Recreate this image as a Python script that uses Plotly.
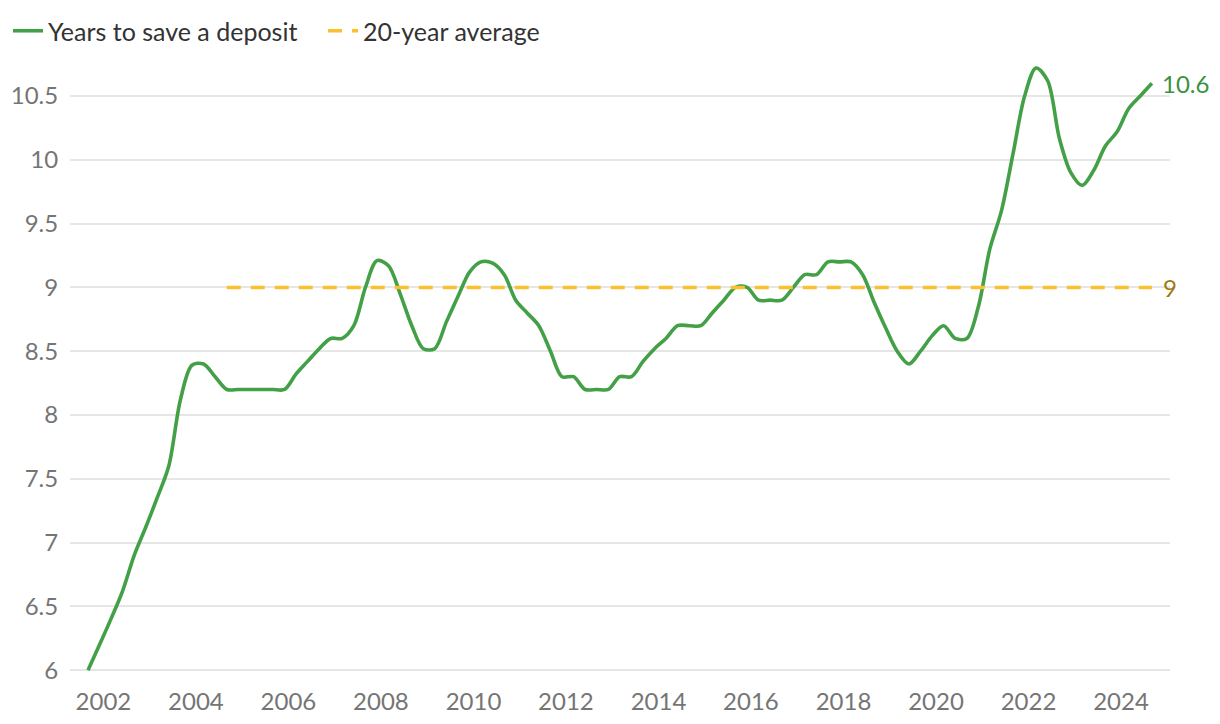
import pandas as pd
import plotly.graph_objects as go

# Quarterly observations, Sep 2001 – Sep 2024
quarters = pd.date_range("2001-09-01", periods=93, freq="3MS")
years_to_save = [
    6.0, 6.2,
    6.4, 6.62, 6.9, 7.12,
    7.35, 7.6, 8.12, 8.39,
    8.4, 8.3, 8.2, 8.2,
    8.2, 8.2, 8.2, 8.2,
    8.32, 8.42, 8.52, 8.6,
    8.6, 8.7, 9.0, 9.21,
    9.17, 8.95, 8.7, 8.52,
    8.52, 8.73, 8.93, 9.12,
    9.2, 9.19, 9.1, 8.9,
    8.8, 8.7, 8.5, 8.3,
    8.3, 8.2, 8.2, 8.2,
    8.3, 8.3, 8.42, 8.52,
    8.6, 8.7, 8.7, 8.7,
    8.8, 8.9, 9.0, 9.0,
    8.9, 8.9, 8.9, 9.0,
    9.1, 9.1, 9.2, 9.2,
    9.2, 9.1, 8.88, 8.68,
    8.5, 8.4, 8.5, 8.62,
    8.7, 8.6, 8.6, 8.85,
    9.3, 9.6, 10.05, 10.5,
    10.72, 10.62, 10.17, 9.9,
    9.8, 9.92, 10.11, 10.22,
    10.4, 10.5, 10.6,
]

avg_start = "2004-09-01"
avg_end = "2024-09-01"
avg_value = 9.0

y_ticks = [6, 6.5, 7, 7.5, 8, 8.5, 9, 9.5, 10, 10.5]

green = "#43a047"
yellow = "#fbc02d"
font = "Lato"

fig = go.Figure()
fig.add_trace(go.Scatter(
    x=quarters, y=years_to_save, mode="lines", name="Years to save a deposit",
    line=dict(color=green, width=3.6, shape="spline", smoothing=0.9),
    hoverinfo="skip",
))
fig.add_trace(go.Scatter(
    x=[avg_start, avg_end], y=[avg_value, avg_value], mode="lines",
    name="20-year average",
    line=dict(color=yellow, width=3.5, dash="14px,10px"),
    hoverinfo="skip",
))

fig.add_annotation(x=quarters[-1], y=years_to_save[-1], text=f"{years_to_save[-1]:g}",
                   xanchor="left", yanchor="middle", xshift=8, showarrow=False,
                   font=dict(family=font, size=24, color="#3c9140"))
fig.add_annotation(x=avg_end, y=avg_value, text=f"{avg_value:g}",
                   xanchor="left", yanchor="middle", xshift=9, showarrow=False,
                   font=dict(family=font, size=24, color="#9e7b10"))

fig.update_layout(
    width=1212, height=708,
    margin=dict(l=62, r=50, t=37, b=42, autoexpand=False),
    paper_bgcolor="white", plot_bgcolor="white",
    font=dict(family=font, size=24, color="#757575"),
    showlegend=True,
    legend=dict(orientation="h", xref="container", yref="container",
                x=0.0, y=1.0, xanchor="left", yanchor="top",
                font=dict(family=font, size=25, color="#333333"),
                bgcolor="rgba(0,0,0,0)", itemwidth=30, entrywidth=270),
    xaxis=dict(type="date", range=["2001-04-12", "2025-01-22"], automargin=False,
               tickvals=[f"{y}-01-01" for y in range(2002, 2025, 2)],
               tickformat="%Y", showgrid=False, zeroline=False, showline=False,
               ticks="outside", ticklen=6, tickcolor="rgba(0,0,0,0)",
               tickfont=dict(family=font, size=24, color="#757575")),
    yaxis=dict(range=[5.97, 10.9], tickvals=y_ticks, showgrid=True, automargin=False,
               gridcolor="#e6e6e6", gridwidth=2, zeroline=False, showline=False,
               ticks="outside", ticklen=6, tickcolor="rgba(0,0,0,0)",
               tickfont=dict(family=font, size=24, color="#757575")),
)

fig.write_html("out.html")
